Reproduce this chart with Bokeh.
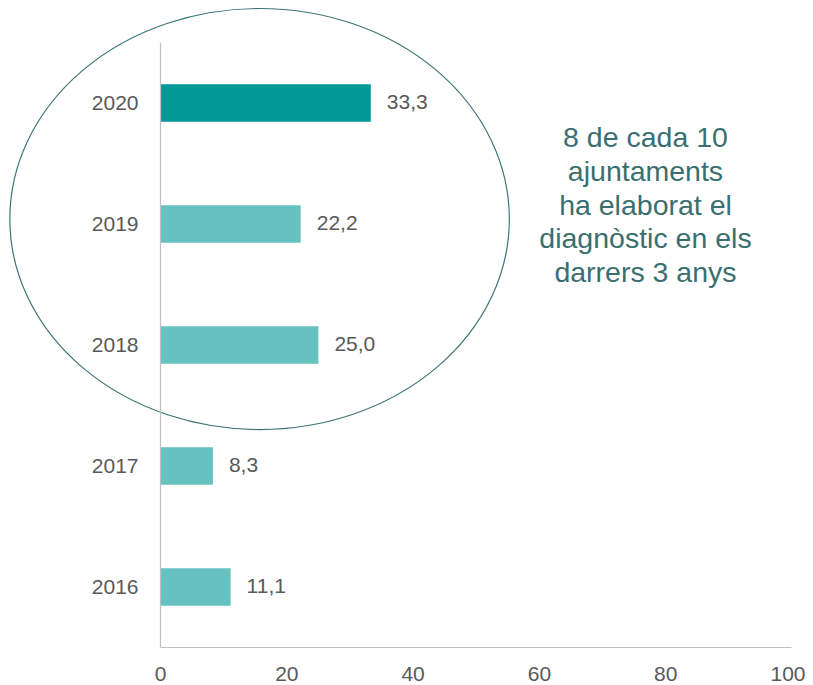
from bokeh.plotting import figure
from bokeh.models import Range1d, FixedTicker, ColumnDataSource, Label
from bokeh.core.properties import value
from bokeh.embed import file_html
from bokeh.resources import INLINE

# ---- data ----
years = ["2016", "2017", "2018", "2019", "2020"]
values = [11.1, 8.3, 25.0, 22.2, 33.3]
value_labels = ["11,1", "8,3", "25,0", "22,2", "33,3"]
x_ticks = [0, 20, 40, 60, 80, 100]
note_lines = ["8 de cada 10", "ajuntaments", "ha elaborat el",
              "diagnòstic en els", "darrers 3 anys"]

HIGHLIGHT = "#009997"
NORMAL = "#66c2c0"
TEXT_GRAY = "#595959"
NOTE_COLOR = "#3a6f6f"
FONT = "Liberation Sans"

ypos = list(range(len(years)))
colors = [HIGHLIGHT if y == "2020" else NORMAL for y in years]

src = ColumnDataSource(dict(y=ypos, v=values, lab=value_labels, c=colors))

p = figure(width=805, height=684, output_backend="svg", toolbar_location=None,
           x_range=Range1d(-25.34, 102.14), y_range=Range1d(-0.5, 4.847),
           min_border_left=0, min_border_right=0, min_border_top=0,
           min_border_bottom=37)
p.outline_line_color = None
p.xgrid.visible = False
p.ygrid.visible = False
p.background_fill_color = "white"
p.border_fill_color = "white"

# bars
p.hbar(y="y", right="v", left=0, height=0.31, fill_color="c", line_color=None, source=src)

# value labels
p.text(x="v", y="y", text="lab", source=src, x_offset=16, y_offset=-1,
       text_baseline="middle", text_align="left", text_font=value(FONT),
       text_font_size="21px", text_color=TEXT_GRAY)

# ellipse highlighting the last three years
p.ellipse(x=15.69, y=3.041, width=79.1, height=3.48, fill_color=None,
          line_color="#3d7575", line_width=1.2)

# axes
ya = p.yaxis[0]
ya.fixed_location = 0
ya.bounds = (-0.5, 4.5)
ya.ticker = FixedTicker(ticks=ypos)
ya.major_label_overrides = {i: y for i, y in zip(ypos, years)}
ya.major_tick_line_color = None
ya.minor_tick_line_color = None
ya.axis_line_color = "#c0c0c0"
ya.axis_line_width = 1.2
ya.major_label_standoff = 16
ya.major_label_text_font = FONT
ya.major_label_text_font_size = "21px"
ya.major_label_text_color = TEXT_GRAY

xa = p.xaxis[0]
xa.bounds = (0, 100)
xa.ticker = FixedTicker(ticks=x_ticks)
xa.major_tick_line_color = None
xa.minor_tick_line_color = None
xa.axis_line_color = "#c0c0c0"
xa.axis_line_width = 1.2
xa.major_label_standoff = 13
xa.major_label_text_font = FONT
xa.major_label_text_font_size = "21px"
xa.major_label_text_color = TEXT_GRAY

# note text
for i, line in enumerate(note_lines):
    p.add_layout(Label(x=76.8, y=3.715 - i * 0.278, text=line, text_align="center",
                       text_baseline="middle", text_font=FONT, text_font_size="28.5px",
                       text_color=NOTE_COLOR))

open("out.html", "w").write(file_html(p, INLINE))
